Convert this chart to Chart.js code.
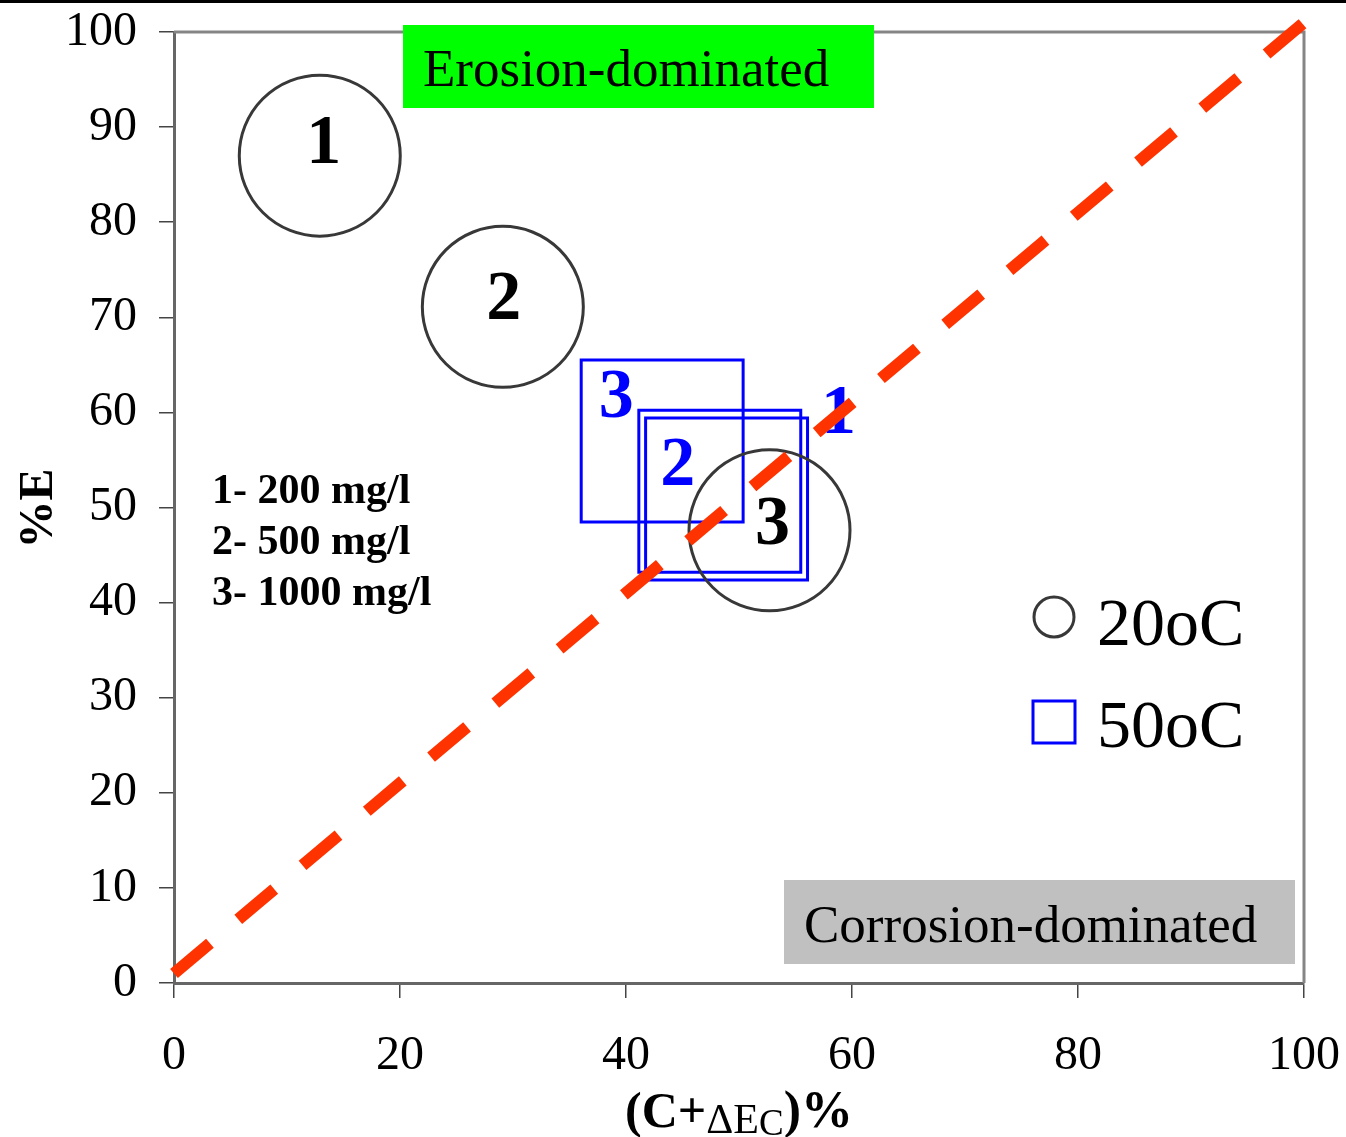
<!DOCTYPE html>
<html>
<head>
<meta charset="utf-8">
<script src="https://cdn.jsdelivr.net/npm/chart.js@4.4.0/dist/chart.umd.min.js"></script>
<style>
    html, body { margin: 0; padding: 0; background: #fff; }
    #chart { display: block; }
</style>
</head>
<body>
<canvas id="chart" width="1346" height="1137"></canvas>
<script>
// values
const pointLabels = ['1', '2', '3'];
const concNotes = ['1- 200 mg/l', '2- 500 mg/l', '3- 1000 mg/l'];
const x20 = [12.9, 29.1, 52.7];
const y20 = [87.0, 71.1, 47.6];
const x50 = [48.9, 48.3, 43.2];
const y50 = [50.9, 51.7, 57.0];
const lineX = [0, 100];
const lineY = [1, 101];
const xTicks = [0, 20, 40, 60, 80, 100];
const yTicks = [0, 10, 20, 30, 40, 50, 60, 70, 80, 90, 100];
const seriesNames = ['20oC', '50oC'];

const SERIF = '"Liberation Serif", "Times New Roman", serif';
const CIRCLE_COLOR = '#383838';
const SQUARE_COLOR = '#0000ff';

// label offsets from the point centre (px), text baseline
const offs20 = [[4, 7], [1, 12], [3, 14]];
const offs50 = [[112, -66], [-42, -6], [-46, -24]];

function toPoints(xs, ys) {
    return xs.map((x, i) => ({ x: x, y: ys[i] }));
}

const annotations = {
    id: 'annotations',
    beforeDraw(chart) {
        const ctx = chart.ctx;
        ctx.save();
        ctx.fillStyle = '#fff';
        ctx.fillRect(0, 0, chart.width, chart.height);
        ctx.restore();
    },
    beforeDatasetsDraw(chart) {
        const ctx = chart.ctx;
        const a = chart.chartArea;
        ctx.save();

        // top and right frame
        ctx.strokeStyle = '#858585';
        ctx.lineWidth = 3;
        ctx.beginPath();
        ctx.moveTo(a.left, a.top);
        ctx.lineTo(a.right, a.top);
        ctx.lineTo(a.right, a.bottom);
        ctx.stroke();

        // region boxes
        ctx.fillStyle = '#00ff00';
        ctx.fillRect(a.left + 229, a.top - 7, 471, 83);
        ctx.fillStyle = '#c0c0c0';
        ctx.fillRect(a.left + 610, a.top + 848, 511, 84);
        ctx.fillStyle = '#000';
        ctx.font = '53px ' + SERIF;
        ctx.textBaseline = 'alphabetic';
        ctx.textAlign = 'left';
        ctx.fillText('Erosion-dominated', a.left + 249, a.top + 54);
        ctx.fillText('Corrosion-dominated', a.left + 630, a.top + 910);

        // concentration notes
        ctx.font = 'bold 42px ' + SERIF;
        concNotes.forEach((t, i) => {
            ctx.fillText(t, a.left + 38, a.top + 471 + i * 51);
        });

        // numbers beside the marks
        ctx.font = 'bold 70px ' + SERIF;
        ctx.textAlign = 'center';
        const m20 = chart.getDatasetMeta(1).data;
        const m50 = chart.getDatasetMeta(2).data;
        ctx.fillStyle = '#000';
        m20.forEach((p, i) => ctx.fillText(pointLabels[i], p.x + offs20[i][0], p.y + offs20[i][1]));
        ctx.fillStyle = SQUARE_COLOR;
        m50.forEach((p, i) => ctx.fillText(pointLabels[i], p.x + offs50[i][0], p.y + offs50[i][1]));
        ctx.restore();
    },
    afterDraw(chart) {
        const ctx = chart.ctx;
        const a = chart.chartArea;
        ctx.save();

        // black rule along the top edge
        ctx.fillStyle = '#000';
        ctx.fillRect(0, 0, chart.width, 3);

        // legend
        const lx = a.right - 250;
        ctx.lineWidth = 3;
        ctx.strokeStyle = CIRCLE_COLOR;
        ctx.beginPath();
        ctx.arc(lx, a.top + 585, 20, 0, Math.PI * 2);
        ctx.stroke();
        ctx.strokeStyle = SQUARE_COLOR;
        ctx.strokeRect(lx - 21, a.top + 669, 42, 42);
        ctx.fillStyle = '#000';
        ctx.font = '68px ' + SERIF;
        ctx.textAlign = 'left';
        ctx.textBaseline = 'alphabetic';
        ctx.fillText(seriesNames[0], lx + 43, a.top + 613);
        ctx.fillText(seriesNames[1], lx + 43, a.top + 715);

        // y axis title
        ctx.save();
        ctx.translate(52, (a.top + a.bottom) / 2 + 1);
        ctx.rotate(-Math.PI / 2);
        ctx.textAlign = 'center';
        ctx.font = 'bold 48px ' + SERIF;
        ctx.fillText('%E', 0, 0);
        ctx.restore();

        // x axis title with subscript
        const parts = [
            { t: '(C+', f: 'bold 50px ' + SERIF, dy: 0 },
            { t: '\u0394E', f: '42px ' + SERIF, dy: 6 },
            { t: 'C', f: '37px ' + SERIF, dy: 8 },
            { t: ')%', f: 'bold 52px ' + SERIF, dy: 0 }
        ];
        let total = 0;
        parts.forEach(p => { ctx.font = p.f; p.w = ctx.measureText(p.t).width; total += p.w; });
        let x = (a.left + a.right) / 2 - total / 2;
        const base = a.bottom + 144;
        parts.forEach(p => {
            ctx.font = p.f;
            ctx.fillText(p.t, x, base + p.dy);
            x += p.w;
        });
        ctx.restore();
    }
};

const tickFont = { family: SERIF, size: 48 };

new Chart(document.getElementById('chart'), {
    type: 'scatter',
    data: {
        datasets: [
            {
                type: 'line',
                label: 'x = y',
                data: toPoints(lineX, lineY),
                borderColor: '#ff3300',
                borderWidth: 12,
                borderDash: [47, 37],
                borderCapStyle: 'butt',
                pointRadius: 0,
                fill: false,
                clip: false
            },
            {
                label: seriesNames[0],
                data: toPoints(x20, y20),
                pointStyle: 'circle',
                pointRadius: 80.5,
                pointHoverRadius: 80.5,
                borderColor: CIRCLE_COLOR,
                borderWidth: 3,
                backgroundColor: 'rgba(0,0,0,0)',
                clip: false
            },
            {
                label: seriesNames[1],
                data: toPoints(x50, y50),
                pointStyle: 'rect',
                pointRadius: 114.5,
                pointHoverRadius: 114.5,
                borderColor: SQUARE_COLOR,
                borderWidth: 3,
                backgroundColor: 'rgba(0,0,0,0)',
                clip: false
            }
        ]
    },
    options: {
        responsive: false,
        animation: false,
        layout: { autoPadding: false, padding: { left: 0, right: 42, top: 32, bottom: 0 } },
        plugins: {
            legend: { display: false },
            tooltip: { enabled: false }
        },
        scales: {
            x: {
                type: 'linear',
                min: 0,
                max: 100,
                afterFit: s => { s.height = 154; s.paddingLeft = 0; s.paddingRight = 0; },
                afterBuildTicks: s => { s.ticks = xTicks.map(v => ({ value: v })); },
                ticks: { font: tickFont, color: '#000', padding: 30, maxRotation: 0, autoSkip: false },
                grid: { drawOnChartArea: false, tickLength: 15, color: '#444', lineWidth: 1.5 },
                border: { color: '#666', width: 3 }
            },
            y: {
                type: 'linear',
                min: 0,
                max: 100,
                afterFit: s => { s.width = 174; s.paddingTop = 0; s.paddingBottom = 0; },
                afterBuildTicks: s => { s.ticks = yTicks.map(v => ({ value: v })); },
                ticks: { font: tickFont, color: '#000', padding: 22, autoSkip: false },
                grid: { drawOnChartArea: false, tickLength: 15, color: '#444', lineWidth: 1.5 },
                border: { color: '#666', width: 3 }
            }
        }
    },
    plugins: [annotations]
});
</script>
</body>
</html>
